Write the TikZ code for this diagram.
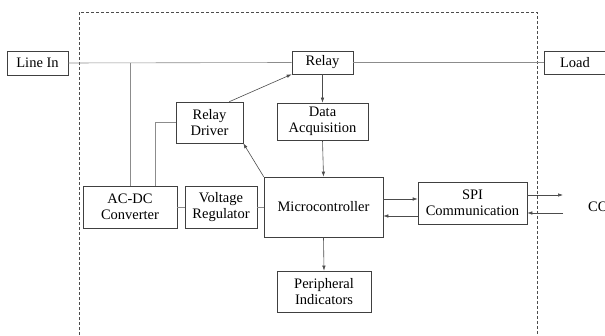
\documentclass[tikz,border=0pt]{standalone}
\usepackage{fontspec}
\setmainfont{Liberation Serif}
\usetikzlibrary{arrows.meta, calc}

\tikzset{
  block/.style={draw=black!75, line width=0.6pt, align=center, inner sep=1pt,
    font=\fontsize{14.5}{16.5}\selectfont},
  wire/.style={draw=black!45, line width=0.6pt},
  sig/.style={draw=black!70, line width=0.6pt, -{Latex[length=5pt,width=3.5pt]}}
}

\begin{document}
\begin{tikzpicture}[x=1pt, y=-1pt]
\clip (0,0) rectangle (605,336);
\useasboundingbox (0,0) rectangle (605,336);

\draw[black!70, line width=0.6pt, dash pattern=on 3pt off 2pt] (79,345) -- (79,12) -- (537,12) -- (537,345);

\node[block, minimum width=61pt, minimum height=24pt] (linein) at (37.5,63) {Line In};
\node[block, minimum width=61pt, minimum height=23pt] (relay) at (322.5,62.5) {Relay};
\node[block, minimum width=62pt, minimum height=23pt] (load) at (575,62.5) {Load};
\node[block, minimum width=91pt, minimum height=37pt] (daq) at (322.5,121.5) {Data\\Acquisition};
\node[block, minimum width=67pt, minimum height=41pt] (driver) at (209.5,122.5) {Relay\\Driver};
\node[block, minimum width=94pt, minimum height=42pt] (acdc) at (130,207) {AC-DC\\Converter};
\node[block, minimum width=72pt, minimum height=42pt] (vreg) at (221,207) {Voltage\\Regulator};
\node[block, minimum width=119pt, minimum height=60pt] (mcu) at (323.5,207) {Microcontroller};
\node[block, minimum width=109pt, minimum height=42pt] (spi) at (472.5,203) {SPI\\Communication};
\node[block, minimum width=94pt, minimum height=41pt] (periph) at (324,291.5) {Peripheral\\Indicators};
\node[font=\fontsize{14.5}{16.5}\selectfont, anchor=west, inner sep=0pt] (com) at (588,207) {CO};

\coordinate (tap) at (130,63);
\coordinate (outA) at (563,195);
\coordinate (inA) at (563,213);

\draw[wire] (linein.east) -- (relay.west);
\draw[wire] (relay.east) -- (load.west);
\draw[wire] (tap) -- (acdc.north);
\draw[wire] (driver.west) -| ([xshift=-22pt]acdc.north east);
\draw[wire] (acdc.east) -- (vreg.west);
\draw[wire] (vreg.east) -- (mcu.west);

\draw[sig] (relay.south) -- (daq.north);
\draw[sig] (daq.south) -- (mcu.north);
\draw[sig] ([xshift=-14pt]driver.north east) -- (relay.south west);
\draw[sig] (mcu.north west) -- (driver.south east);
\draw[sig] ([yshift=8pt]mcu.east) -- ([yshift=8pt]mcu.east -| spi.west);
\draw[sig] ([yshift=-9pt]mcu.east -| spi.west) -- ([yshift=-9pt]mcu.east);
\draw[sig] (spi.east |- outA) -- (outA);
\draw[sig] (inA) -- (spi.east |- inA);
\draw[sig] (mcu.south) -- (periph.north);
\end{tikzpicture}
\end{document}
